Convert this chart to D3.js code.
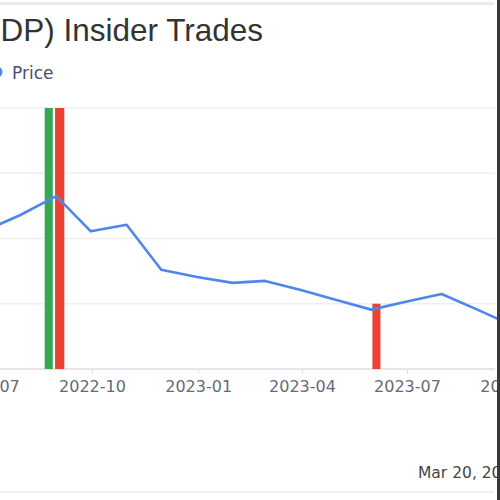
<!DOCTYPE html>
<html><head><meta charset="utf-8">
<script src="https://cdn.jsdelivr.net/npm/d3@7"></script>
<style>html,body{margin:0;padding:0;background:#fff;overflow:hidden}</style>
</head><body>
<svg id="c" width="500" height="500"></svg>
<script>
// ---- data ----
const priceDates = ["2022-06-30","2022-07-31","2022-08-31","2022-09-30","2022-10-31","2022-11-30","2022-12-31","2023-01-31","2023-02-28","2023-03-31","2023-04-30","2023-05-31","2023-06-30","2023-07-31","2023-08-31","2023-09-30"];
const priceValues = [21.2,23.6,26.5,21.1,22.1,15.2,14.1,13.2,13.5,12.1,10.6,9.1,10.3,11.5,9.1,6.7];
const tradeStart = ["2022-08-21","2022-08-30","2023-06-01"];
const tradeEnd   = ["2022-08-28","2022-09-07","2023-06-08"];
const tradeType  = ["buy","sell","sell"];
const tradeCount = [4,4,1];
const tickLabels = ["2022-07","2022-10","2023-01","2023-04","2023-07","2023-10"];
const yTicks = [0,10,20,30,40];
const titleText = "The ODP Corp (ODP) Insider Trades";
const legendText = "Price";
const dateText = "Mar 20, 2024";

const parse = d3.timeParse("%Y-%m-%d");
const parseM = d3.timeParse("%Y-%m");
const svg = d3.select("#c");

const x = d3.scaleTime().domain([parse("2022-10-01"), parse("2023-07-01")]).range([92, 407]);
const y = d3.scaleLinear().domain([0, 40]).range([369, 108]);
const yb = d3.scaleLinear().domain([0, 4]).range([369, 108]);
const colors = {buy:"#34a853", sell:"#ea4335"};

// frame lines
svg.append("rect").attr("x",0).attr("y",2).attr("width",494).attr("height",3).attr("fill","#eaebf0");
svg.append("rect").attr("x",0).attr("y",491).attr("width",494).attr("height",2).attr("fill","#eeeff2");

// title
svg.append("text").attr("x",263).attr("y",41).attr("text-anchor","end")
  .attr("font-family","Liberation Sans, Arial, sans-serif").attr("font-size",31.5)
  .attr("fill","#333").text(titleText);

// legend
svg.append("circle").attr("cx",-3).attr("cy",72).attr("r",5.5).attr("fill","#4e86ee");
svg.append("text").attr("x",12).attr("y",78.5)
  .attr("font-family","DejaVu Sans, sans-serif").attr("font-size",17)
  .attr("fill","#4b4d6b").text(legendText);

// gridlines
svg.append("g").selectAll("line").data(yTicks.slice(1)).join("line")
  .attr("x1",0).attr("x2",495).attr("y1",d=>y(d)).attr("y2",d=>y(d))
  .attr("stroke","#efeff3").attr("stroke-width",1.5);

// x axis
const ax = svg.append("g").attr("transform","translate(0,"+y(0)+")")
  .call(d3.axisBottom(x).tickValues(tickLabels.map(parseM)).tickFormat(d3.timeFormat("%Y-%m")).tickSize(5).tickPadding(7));
ax.select(".domain").attr("stroke","#dcdde3").attr("stroke-width",1.5).attr("d","M0,0H495");
ax.selectAll(".tick line").attr("stroke","#e2e2e8");
ax.selectAll(".tick text").attr("font-family","DejaVu Sans, sans-serif").attr("font-size",16).attr("fill","#666a78");

// trade bars
svg.append("g").selectAll("rect").data(tradeStart.map((s,i)=>({s:parse(s),e:parse(tradeEnd[i]),t:tradeType[i],c:tradeCount[i]}))).join("rect")
  .attr("x",d=>x(d.s)).attr("width",d=>x(d.e)-x(d.s))
  .attr("y",d=>yb(d.c)).attr("height",d=>yb(0)-yb(d.c))
  .attr("fill",d=>colors[d.t]);

// price line
const pts = priceDates.map((d,i)=>({d:parse(d),v:priceValues[i]}));
svg.append("path").datum(pts)
  .attr("d", d3.line().x(p=>x(p.d)).y(p=>y(p.v)))
  .attr("fill","none").attr("stroke","#4e86ee").attr("stroke-width",2.6).attr("stroke-linejoin","round");

// date
svg.append("text").attr("x",418).attr("y",478)
  .attr("font-family","DejaVu Sans, sans-serif").attr("font-size",15.5)
  .attr("fill","#444").text(dateText);
// right border drawn over the date text
svg.append("rect").attr("x",497).attr("y",0).attr("width",3).attr("height",500).attr("fill","#3a3a3a");
</script>
</body></html>
